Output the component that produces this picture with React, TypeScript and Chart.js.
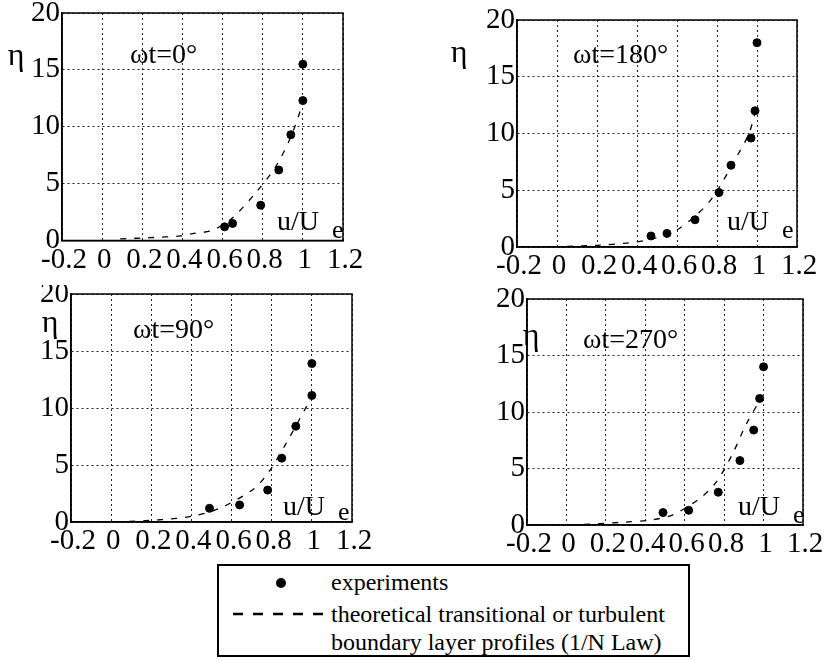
import React, { useEffect, useRef } from "react";
import { Chart, registerables } from "chart.js";

Chart.register(...registerables);

const FONT = "'Liberation Serif', 'Times New Roman', serif";

// Axis ticks
const X_TICKS = [-0.2, 0, 0.2, 0.4, 0.6, 0.8, 1, 1.2];
const X_TICK_LABELS = ["-0.2", "0", "0.2", "0.4", "0.6", "0.8", "1", "1.2"];
const Y_TICKS = [0, 5, 10, 15, 20];
const Y_TICK_LABELS = ["0", "5", "10", "15", "20"];

// Phase labels
const PHASES = ["ωt=0°", "ωt=180°", "ωt=90°", "ωt=270°"];

// ωt = 0°
const P0_EXP_U = [0.61, 0.65, 0.79, 0.88, 0.94, 1.0, 1.0];
const P0_EXP_ETA = [1.2, 1.5, 3.1, 6.2, 9.3, 12.3, 15.5];
const P0_TH_U = [0.09, 0.24, 0.39, 0.45, 0.55, 0.65, 0.77, 0.865, 0.94, 0.995];
const P0_TH_ETA = [0.15, 0.25, 0.4, 0.6, 0.9, 2.0, 4.3, 6.5, 9.1, 11.8];

// ωt = 180°
const P180_EXP_U = [0.47, 0.55, 0.69, 0.81, 0.87, 0.97, 0.99, 1.0];
const P180_EXP_ETA = [0.97, 1.2, 2.4, 4.8, 7.2, 9.6, 12.0, 18.0];
const P180_TH_U = [0.05, 0.2, 0.35, 0.45, 0.55, 0.6, 0.69, 0.78, 0.9, 0.96, 0.99];
const P180_TH_ETA = [0.05, 0.15, 0.35, 0.6, 1.1, 1.5, 2.7, 4.4, 8.0, 10.0, 11.8];

// ωt = 90°
const P90_EXP_U = [0.49, 0.64, 0.78, 0.85, 0.92, 1.0, 1.0];
const P90_EXP_ETA = [1.2, 1.5, 2.8, 5.6, 8.4, 11.1, 13.9];
const P90_TH_U = [0.09, 0.25, 0.4, 0.54, 0.71, 0.79, 0.875, 0.96, 1.0];
const P90_TH_ETA = [0.05, 0.2, 0.5, 1.2, 2.9, 4.5, 7.0, 9.7, 11.0];

// ωt = 270°
const P270_EXP_U = [0.49, 0.62, 0.77, 0.88, 0.95, 0.98, 1.0];
const P270_EXP_ETA = [1.1, 1.3, 2.9, 5.7, 8.4, 11.2, 14.0];
const P270_TH_U = [0.09, 0.29, 0.43, 0.54, 0.68, 0.76, 0.84, 0.91, 0.99];
const P270_TH_ETA = [0.05, 0.25, 0.45, 0.9, 2.4, 3.8, 6.2, 8.85, 11.3];

const LEGEND_LABELS = [
  "experiments",
  "theoretical transitional or turbulent",
  "boundary layer profiles (1/N Law)",
];

type Box = { left: number; top: number; width: number; height: number };
type Area = { l: number; r: number; t: number; b: number };
type Off = { dx: number; dy: number };
type PanelSpec = {
  title: string;
  expU: number[];
  expEta: number[];
  thU: number[];
  thEta: number[];
  box: Box;
  area: Area;
  eta: Off;
  phase: Off;
  uu: Off;
  ee: Off;
};

const PANELS: PanelSpec[] = [
  {
    title: PHASES[0], expU: P0_EXP_U, expEta: P0_EXP_ETA, thU: P0_TH_U, thEta: P0_TH_ETA,
    box: { left: 0, top: 0, width: 410, height: 285 },
    area: { l: 62, r: 343, t: 13, b: 240.5 },
    eta: { dx: -46, dy: 52 }, phase: { dx: 68, dy: 50 }, uu: { dx: 215, dy: -10.5 }, ee: { dx: 270, dy: -2.5 },
  },
  {
    title: PHASES[1], expU: P180_EXP_U, expEta: P180_EXP_ETA, thU: P180_TH_U, thEta: P180_TH_ETA,
    box: { left: 413, top: 0, width: 413, height: 285 },
    area: { l: 517, r: 797, t: 20, b: 247 },
    eta: { dx: -58, dy: 42 }, phase: { dx: 56, dy: 43 }, uu: { dx: 210, dy: -17 }, ee: { dx: 265, dy: -9 },
  },
  {
    title: PHASES[2], expU: P90_EXP_U, expEta: P90_EXP_ETA, thU: P90_TH_U, thEta: P90_TH_ETA,
    box: { left: 0, top: 285, width: 410, height: 280 },
    area: { l: 71, r: 352, t: 294, b: 522 },
    eta: { dx: -21, dy: 38 }, phase: { dx: 62, dy: 44 }, uu: { dx: 212, dy: -7 }, ee: { dx: 267, dy: -2 },
  },
  {
    title: PHASES[3], expU: P270_EXP_U, expEta: P270_EXP_ETA, thU: P270_TH_U, thEta: P270_TH_ETA,
    box: { left: 413, top: 285, width: 413, height: 280 },
    area: { l: 527, r: 803, t: 299, b: 525 },
    eta: { dx: 4, dy: 46 }, phase: { dx: 56, dy: 49 }, uu: { dx: 211, dy: -10 }, ee: { dx: 266, dy: -2 },
  },
];

function Panel({ p }: { p: PanelSpec }) {
  const ref = useRef<HTMLCanvasElement | null>(null);

  useEffect(() => {
    const canvas = ref.current;
    if (!canvas) return;
    const { box, area } = p;

    const annot = {
      id: "annot",
      afterDraw(chart: any) {
        const { ctx, chartArea: a } = chart;
        ctx.save();
        ctx.setLineDash([]);
        ctx.strokeStyle = "#000";
        ctx.lineWidth = 1.5;
        ctx.strokeRect(a.left, a.top, a.right - a.left, a.bottom - a.top);
        ctx.fillStyle = "#000";
        ctx.textBaseline = "alphabetic";
        ctx.font = `32px ${FONT}`;
        ctx.textAlign = "center";
        ctx.fillText("η", a.left + p.eta.dx, a.top + p.eta.dy);
        ctx.font = `28px ${FONT}`;
        ctx.textAlign = "left";
        ctx.fillText(p.title, a.left + p.phase.dx, a.top + p.phase.dy);
        ctx.fillText("u/U", a.left + p.uu.dx, a.bottom + p.uu.dy);
        ctx.font = `26px ${FONT}`;
        ctx.fillText("e", a.left + p.ee.dx, a.bottom + p.ee.dy);
        ctx.restore();
      },
    };

    const chart = new Chart(canvas, {
      type: "scatter",
      data: {
        datasets: [
          {
            label: LEGEND_LABELS[0],
            data: p.expU.map((u, i) => ({ x: u, y: p.expEta[i] })),
            backgroundColor: "#000",
            borderColor: "#000",
            pointRadius: 4,
            pointHoverRadius: 4,
            showLine: false,
          },
          {
            label: LEGEND_LABELS[1],
            data: p.thU.map((u, i) => ({ x: u, y: p.thEta[i] })),
            borderColor: "#000",
            backgroundColor: "#000",
            borderWidth: 1.3,
            borderDash: [6, 8],
            pointRadius: 0,
            showLine: true,
            tension: 0.3,
          },
        ],
      },
      options: {
        responsive: false,
        animation: false,
        devicePixelRatio: 1,
        layout: {
          padding: {
            top: area.t - box.top,
            right: box.left + box.width - area.r,
            left: 0,
            bottom: 0,
          },
        },
        plugins: {
          legend: { display: false },
          tooltip: { enabled: false },
        },
        scales: {
          x: {
            type: "linear",
            min: -0.2,
            max: 1.2,
            afterBuildTicks: (s: any) => {
              s.ticks = X_TICKS.map((v) => ({ value: v }));
            },
            afterFit: (s: any) => {
              s.height = box.top + box.height - area.b;
              s.paddingLeft = 0;
              s.paddingRight = 0;
            },
            ticks: {
              autoSkip: false,
              maxRotation: 0,
              minRotation: 0,
              padding: 2,
              labelOffset: 2,
              color: "#000",
              font: { family: FONT, size: 29 },
              callback: (_v: any, i: number) => X_TICK_LABELS[i],
            },
            grid: { color: "#222", lineWidth: 1, drawTicks: false },
            border: { display: true, color: "#000", width: 1.5, dash: [2, 3] },
          },
          y: {
            type: "linear",
            min: 0,
            max: 20,
            afterBuildTicks: (s: any) => {
              s.ticks = Y_TICKS.map((v) => ({ value: v }));
            },
            afterFit: (s: any) => {
              s.width = area.l - box.left;
              s.paddingTop = 0;
              s.paddingBottom = 0;
            },
            ticks: {
              autoSkip: false,
              padding: 2,
              color: "#000",
              font: { family: FONT, size: 29 },
              callback: (_v: any, i: number) => Y_TICK_LABELS[i],
            },
            grid: { color: "#222", lineWidth: 1, drawTicks: false },
            border: { display: true, color: "#000", width: 1.5, dash: [2, 3] },
          },
        },
      },
      plugins: [annot],
    } as any);

    return () => chart.destroy();
  }, [p]);

  return (
    <canvas
      ref={ref}
      width={p.box.width}
      height={p.box.height}
      style={{
        position: "absolute",
        left: p.box.left,
        top: p.box.top,
        width: p.box.width,
        height: p.box.height,
      }}
    />
  );
}

const legendText: React.CSSProperties = {
  position: "absolute",
  left: 331,
  fontSize: 24,
  lineHeight: "28px",
  whiteSpace: "nowrap",
  fontFamily: FONT,
};

export default function App() {
  return (
    <div
      style={{
        position: "absolute",
        left: 0,
        top: 0,
        width: 826,
        height: 660,
        background: "#fff",
        overflow: "hidden",
        fontFamily: FONT,
        color: "#000",
      }}
    >
      {PANELS.map((p, i) => (
        <Panel key={i} p={p} />
      ))}
      <div
        style={{
          position: "absolute",
          left: 217,
          top: 564,
          width: 473,
          height: 93,
          boxSizing: "border-box",
          border: "2px solid #000",
          background: "#fff",
        }}
      />
      <div
        style={{
          position: "absolute",
          left: 276,
          top: 578,
          width: 10,
          height: 10,
          borderRadius: "50%",
          background: "#000",
        }}
      />
      <svg width={100} height={8} style={{ position: "absolute", left: 228, top: 610 }}>
        <line x1={5} y1={4} x2={95} y2={4} stroke="#000" strokeWidth={2.5} strokeDasharray="10,10" />
      </svg>
      <div style={{ ...legendText, top: 568 }}>{LEGEND_LABELS[0]}</div>
      <div style={{ ...legendText, top: 600 }}>{LEGEND_LABELS[1]}</div>
      <div style={{ ...legendText, top: 628 }}>{LEGEND_LABELS[2]}</div>
    </div>
  );
}
